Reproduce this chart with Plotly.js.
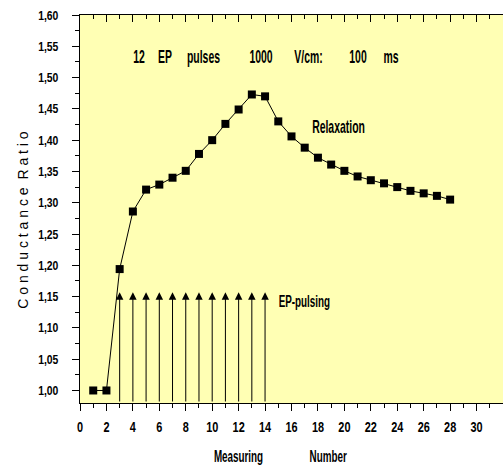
<!DOCTYPE html>
<html>
<head>
<meta charset="utf-8">
<script src="https://cdn.plot.ly/plotly-3.0.1.min.js"></script>
<style>html,body{margin:0;padding:0;background:#fff;overflow:hidden;}#chart{width:503px;height:467px;}</style>
</head>
<body>
<div id="chart"></div>
<script>
// ---- data ----
const measNo = [1,2,3,4,5,6,7,8,9,10,11,12,13,14,15,16,17,18,19,20,21,22,23,24,25,26,27,28];
const ratio  = [1.000,1.000,1.194,1.286,1.321,1.329,1.340,1.351,1.378,1.400,1.426,1.449,1.473,1.470,
                1.430,1.406,1.388,1.372,1.361,1.351,1.342,1.336,1.331,1.325,1.319,1.315,1.311,1.305];
const pulseNo = [3,4,5,6,7,8,9,10,11,12,13,14];
const pulseTop = 1.157;
const pulseBase = 0.98;
const headerText = ['12','EP','pulses','1000','V/cm:','100','ms'];
const headerX = [4.47,6.44,9.32,13.7,17.3,21.0,23.5];
const headerY = 1.533;
const xTitleParts = ['Measuring','Number'];
const yTitle = 'C o n d u c t a n c e \u00a0R a t i o';

// ---- styles ----
const SANS = 'Liberation Sans, Arial, sans-serif';
const boldFont = (s) => ({family: SANS, size: s, color: '#000', weight: 'bold'});

const traces = [
  {
    x: measNo, y: ratio, type: 'scatter', mode: 'lines+markers',
    line: {color: '#000', width: 1},
    marker: {symbol: 'square', size: 8, color: '#000'},
    showlegend: false, hoverinfo: 'skip'
  },
  {x: [], y: [], xaxis: 'x2', type: 'scatter', showlegend: false}
];

const annotations = [];
pulseNo.forEach(p => annotations.push({
  x: p, y: pulseTop, xref: 'x', yref: 'y',
  ax: p, ay: pulseBase, axref: 'x', ayref: 'y',
  showarrow: true, arrowhead: 2, arrowsize: 1.5, arrowwidth: 1, arrowcolor: '#000',
  text: ''
}));
headerText.forEach((t, i) => annotations.push({
  x: headerX[i], y: headerY, xref: 'x', yref: 'y', text: t, showarrow: false,
  xanchor: 'center', yanchor: 'middle', font: boldFont(18)
}));
annotations.push({x: 19.55, y: 1.4216, xref: 'x', yref: 'y', text: 'Relaxation', showarrow: false,
  xanchor: 'center', yanchor: 'middle', font: boldFont(18)});
annotations.push({x: 17.0, y: 1.142, xref: 'x', yref: 'y', text: 'EP-pulsing', showarrow: false,
  xanchor: 'center', yanchor: 'middle', font: boldFont(17)});
annotations.push({x: 12.0, y: -0.1366, xref: 'x', yref: 'paper', text: xTitleParts[0], showarrow: false,
  xanchor: 'center', yanchor: 'middle', font: boldFont(17)});
annotations.push({x: 18.8, y: -0.1366, xref: 'x', yref: 'paper', text: xTitleParts[1], showarrow: false,
  xanchor: 'center', yanchor: 'middle', font: boldFont(17)});
annotations.push({x: -0.135, y: 0.472, xref: 'paper', yref: 'paper', text: yTitle, showarrow: false,
  textangle: -90, xanchor: 'center', yanchor: 'middle',
  font: {family: SANS, size: 14, color: '#000'}});

const layout = {
  width: 503, height: 467,
  margin: {l: 80, r: 0, t: 15, b: 64, pad: 0},
  paper_bgcolor: '#ffffff',
  plot_bgcolor: '#ffffb4',
  separators: ',.',
  showlegend: false,
  xaxis: {
    range: [0, 32], dtick: 2, tick0: 0,
    showgrid: false, zeroline: false,
    showline: true, linecolor: '#000', linewidth: 1,
    ticks: 'outside', ticklen: 7, tickcolor: '#000', tickwidth: 1,
    minor: {dtick: 1, ticks: 'outside', ticklen: 4, tickcolor: '#000', showgrid: false},
    tickfont: boldFont(14), ticklabelstandoff: 4
  },
  xaxis2: {
    range: [0, 32], dtick: 2, tick0: 0, overlaying: 'x', side: 'top', anchor: 'y',
    showgrid: false, zeroline: false,
    showline: true, linecolor: '#000', linewidth: 1,
    ticks: 'inside', ticklen: 7, tickcolor: '#000',
    minor: {dtick: 1, ticks: 'inside', ticklen: 4, tickcolor: '#000', showgrid: false},
    showticklabels: false
  },
  yaxis: {
    range: [0.98, 1.6], dtick: 0.05, tick0: 0, tickformat: '.2f',
    showgrid: false, zeroline: false,
    showline: true, linecolor: '#000', linewidth: 1,
    ticks: 'outside', ticklen: 7, tickcolor: '#000',
    minor: {dtick: 0.025, ticks: 'outside', ticklen: 4, tickcolor: '#000', showgrid: false},
    tickfont: boldFont(13), ticklabelstandoff: 11
  },
  annotations: annotations
};

// condense text horizontally (the reference uses a narrow bold face)
function condense(el, s, anchor) {
  const b = el.getBBox();
  const cx = anchor === 'end' ? b.x + b.width : b.x + b.width / 2;
  const t = el.getAttribute('transform') || '';
  el.setAttribute('transform', t + ' translate(' + cx + ',0) scale(' + s + ',1) translate(' + (-cx) + ',0)');
}

Plotly.newPlot('chart', traces, layout, {displayModeBar: false, staticPlot: true}).then(gd => {
  gd.querySelectorAll('.xtick text').forEach(el => condense(el, 0.78, 'center'));
  gd.querySelectorAll('.ytick text').forEach(el => condense(el, 0.8, 'end'));
  gd.querySelectorAll('.annotation-text').forEach(el => {
    if (el.textContent.indexOf('R a t i o') >= 0 || el.textContent === '') return;
    condense(el, 0.58, 'center');
  });
});
</script>
</body>
</html>
